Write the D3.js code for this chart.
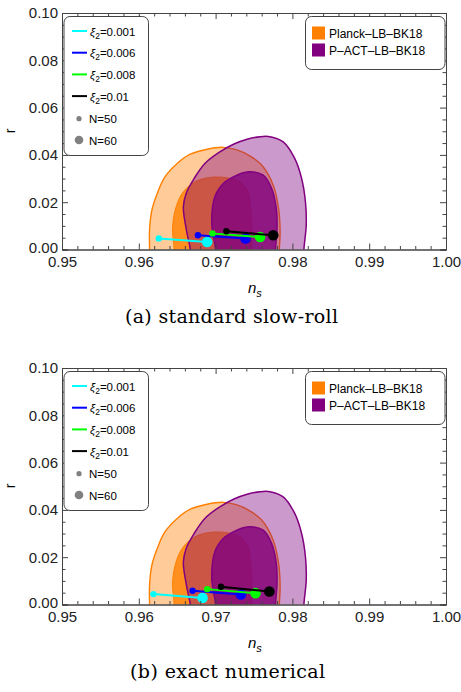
<!DOCTYPE html>
<html>
<head>
<meta charset="utf-8">
<style>
  body { margin: 0; background: #fff; }
  svg { display: block; font-family: "Liberation Sans", Arial, sans-serif; }
  .tick line { stroke: #444; }
  .domain { stroke: #444; }
  .tick text { font-size: 15px; fill: #222; }
</style>
</head>
<body>
<svg width="461" height="692"></svg>
<script src="https://d3js.org/d3.v7.min.js"></script>
<script>

// tick values
const nsMajor = [0.95, 0.96, 0.97, 0.98, 0.99, 1.00];
const rMajor = [0.00, 0.02, 0.04, 0.06, 0.08, 0.10];

// xi_2 values, one line per value
const xiLabels = ["0.001", "0.006", "0.008", "0.01"];
const xiColors = ["#00ffff", "#0000ff", "#00ff00", "#000000"];

// (a) standard slow-roll
const slowRollNs50 = [0.9626, 0.9677, 0.9696, 0.9714];
const slowRollR50 = [0.0047, 0.0060, 0.0068, 0.0077];
const slowRollNs60 = [0.9689, 0.9739, 0.9758, 0.9775];
const slowRollR60 = [0.0032, 0.0047, 0.0053, 0.0060];

// (b) exact numerical
const exactNs50 = [0.9619, 0.9670, 0.9689, 0.9707];
const exactR50 = [0.0044, 0.0058, 0.0065, 0.0075];
const exactNs60 = [0.9683, 0.9733, 0.9752, 0.9770];
const exactR60 = [0.0028, 0.0042, 0.0048, 0.0055];

// confidence contours [ns, r]
const planck2sigma = [
  [0.9614, -0.004], [0.9614, 0.0], [0.9614, 0.0082], [0.9617, 0.0166], [0.9624, 0.0237],
  [0.9634, 0.0307], [0.9650, 0.0364], [0.9667, 0.0403], [0.9689, 0.0424],
  [0.9710, 0.0432], [0.9727, 0.0422], [0.9745, 0.0395], [0.9760, 0.0357],
  [0.9775, 0.0272], [0.9782, 0.0174], [0.9784, 0.0075], [0.9783, 0.0], [0.9783, -0.004]
];
const planck1sigma = [
  [0.9646, -0.004], [0.9646, 0.0], [0.9644, 0.0096], [0.9649, 0.0185], [0.9658, 0.0244],
  [0.9673, 0.0286], [0.9693, 0.0305], [0.9715, 0.0303], [0.9732, 0.0286],
  [0.9742, 0.0244], [0.9746, 0.0166], [0.9747, 0.0082], [0.9747, 0.0], [0.9747, -0.004]
];
const pact2sigma = [
  [0.9667, -0.004], [0.9667, 0.0], [0.9662, 0.0082], [0.9658, 0.0180], [0.9662, 0.0240],
  [0.9672, 0.0300], [0.9686, 0.0364], [0.9705, 0.0412], [0.9724, 0.0446],
  [0.9741, 0.0466], [0.9758, 0.0477], [0.9771, 0.0477], [0.9788, 0.0455],
  [0.9803, 0.0385], [0.9812, 0.0300], [0.9817, 0.0201], [0.9818, 0.0103],
  [0.9815, 0.0], [0.9815, -0.004]
];
const pact1sigma = [
  [0.9700, -0.004], [0.9700, 0.0], [0.9695, 0.0110], [0.9699, 0.0223],
  [0.9710, 0.0279], [0.9723, 0.0307], [0.9741, 0.0328], [0.9762, 0.0314],
  [0.9773, 0.0258], [0.9779, 0.0174], [0.9780, 0.0089],
  [0.9778, 0.0], [0.9778, -0.004]
];

const panels = [
  { top: 13, caption: "(a) standard slow-roll", capX: 231.5, capW: 213, ns50: slowRollNs50, r50: slowRollR50, ns60: slowRollNs60, r60: slowRollR60 },
  { top: 368, caption: "(b) exact numerical", capX: 227.5, capW: 195, ns50: exactNs50, r50: exactR50, ns60: exactNs60, r60: exactR60 }
];

const svg = d3.select("svg");
const left = 62, right = 446, plotH = 236.5;

const x = d3.scaleLinear().domain([0.95, 1.0]).range([left, right]);

panels.forEach(function (p, i) {
  const bottom = p.top + plotH;
  const y = d3.scaleLinear().domain([0, 0.1]).range([bottom, p.top]);
  const g = svg.append("g");

  const clipId = "clip" + i;
  g.append("clipPath").attr("id", clipId)
    .append("rect")
    .attr("x", left).attr("y", p.top)
    .attr("width", right - left).attr("height", plotH);

  // contours
  const area = d3.line()
    .x(d => x(d[0]))
    .y(d => y(d[1]))
    .curve(d3.curveCatmullRomClosed.alpha(0.5));

  const cg = g.append("g").attr("clip-path", "url(#" + clipId + ")");
  cg.append("path").attr("d", area(planck2sigma))
    .attr("fill", "#ff8000").attr("fill-opacity", 0.4)
    .attr("stroke", "#ff8000").attr("stroke-width", 1.4);
  cg.append("path").attr("d", area(planck1sigma))
    .attr("fill", "#ff8000").attr("fill-opacity", 0.8)
    .attr("stroke", "#ff8000").attr("stroke-width", 1);
  cg.append("path").attr("d", area(pact2sigma))
    .attr("fill", "#800080").attr("fill-opacity", 0.4)
    .attr("stroke", "#800080").attr("stroke-width", 1.5);
  cg.append("path").attr("d", area(pact1sigma))
    .attr("fill", "#800080").attr("fill-opacity", 0.8)
    .attr("stroke", "#800080").attr("stroke-width", 1.5);

  // prediction lines, N=50 to N=60
  xiLabels.forEach(function (xi, k) {
    const c = xiColors[k];
    g.append("line")
      .attr("x1", x(p.ns50[k])).attr("y1", y(p.r50[k]))
      .attr("x2", x(p.ns60[k])).attr("y2", y(p.r60[k]))
      .attr("stroke", c).attr("stroke-width", 2);
    g.append("circle")
      .attr("cx", x(p.ns50[k])).attr("cy", y(p.r50[k])).attr("r", 3.2)
      .attr("fill", c);
    g.append("circle")
      .attr("cx", x(p.ns60[k])).attr("cy", y(p.r60[k])).attr("r", 5.3)
      .attr("fill", c);
  });

  // axes with inward ticks
  const nsMinor = d3.range(0.95, 1.0001, 0.002).filter(v => Math.abs(v * 100 - Math.round(v * 100)) > 1e-6);
  const rMinor = d3.range(0, 0.1001, 0.005).filter(v => Math.abs(v * 50 - Math.round(v * 50)) > 1e-6);

  g.append("g").attr("transform", `translate(0,${bottom})`)
    .call(d3.axisBottom(x).tickValues(nsMajor).tickSize(-6).tickPadding(6.5).tickFormat(d3.format(".2f")));
  g.append("g").attr("transform", `translate(0,${bottom})`)
    .call(d3.axisBottom(x).tickValues(nsMinor).tickSize(-3.5).tickFormat(""));
  g.append("g").attr("transform", `translate(0,${p.top})`)
    .call(d3.axisTop(x).tickValues(nsMajor).tickSize(-6).tickFormat(""));
  g.append("g").attr("transform", `translate(0,${p.top})`)
    .call(d3.axisTop(x).tickValues(nsMinor).tickSize(-3.5).tickFormat(""));

  const yAx = g.append("g").attr("transform", `translate(${left},0)`)
    .call(d3.axisLeft(y).tickValues(rMajor).tickSize(-6).tickPadding(4).tickFormat(d3.format(".2f")));
  yAx.selectAll(".tick text").filter(d => d === 0).attr("dy", "0.2em");
  g.append("g").attr("transform", `translate(${left},0)`)
    .call(d3.axisLeft(y).tickValues(rMinor).tickSize(-3.5).tickFormat(""));
  g.append("g").attr("transform", `translate(${right},0)`)
    .call(d3.axisRight(y).tickValues(rMajor).tickSize(-6).tickFormat(""));
  g.append("g").attr("transform", `translate(${right},0)`)
    .call(d3.axisRight(y).tickValues(rMinor).tickSize(-3.5).tickFormat(""));

  g.selectAll(".domain").attr("stroke-width", 1);

  // axis titles
  const ns = g.append("text")
    .attr("x", 248).attr("y", bottom + 43)
    .style("font-size", "15px").style("font-style", "italic");
  ns.append("tspan").text("n");
  ns.append("tspan").attr("dy", 4).style("font-size", "11px").text("s");

  g.append("text")
    .attr("transform", `translate(15,${p.top + 118}) rotate(-90)`)
    .style("font-size", "14px").attr("text-anchor", "middle")
    .text("r");

  // left legend
  const lg = g.append("g").attr("transform", `translate(0,${p.top})`);
  lg.append("rect")
    .attr("x", 64).attr("y", 3.5).attr("width", 84.5).attr("height", 139)
    .attr("rx", 6).attr("fill", "#fff").attr("stroke", "#444").attr("stroke-width", 1);
  xiLabels.forEach(function (xi, k) {
    const yy = 18 + k * 21.7;
    lg.append("line").attr("x1", 72).attr("x2", 87).attr("y1", yy).attr("y2", yy)
      .attr("stroke", xiColors[k]).attr("stroke-width", 2);
    const t = lg.append("text").attr("x", 90).attr("y", yy + 4.5).style("font-size", "11.5px");
    t.append("tspan").style("font-style", "italic").text("ξ");
    t.append("tspan").attr("dy", 3).style("font-size", "8.5px").text("2");
    t.append("tspan").attr("dy", -3).text("=" + xi);
  });
  [["N=50", 2.6, 105.7], ["N=60", 4.3, 127]].forEach(function (d) {
    lg.append("circle").attr("cx", 79).attr("cy", d[2]).attr("r", d[1]).attr("fill", "#808080");
    lg.append("text").attr("x", 89).attr("y", d[2] + 4.5).style("font-size", "11.5px").text(d[0]);
  });

  // right legend
  lg.append("rect")
    .attr("x", 305.5).attr("y", 3.5).attr("width", 139.5).attr("height", 53)
    .attr("rx", 6).attr("fill", "#fff").attr("stroke", "#444").attr("stroke-width", 1);
  [["Planck–LB–BK18", "#ff8000", 20], ["P–ACT–LB–BK18", "#800080", 37]].forEach(function (d) {
    lg.append("rect").attr("x", 312).attr("y", d[2] - 6.5).attr("width", 13).attr("height", 13)
      .attr("fill", d[1]);
    lg.append("text").attr("x", 329).attr("y", d[2] + 4.5).style("font-size", "12px").text(d[0]);
  });

  // caption
  svg.append("text")
    .attr("x", p.capX).attr("y", bottom + 73)
    .attr("text-anchor", "middle")
    .attr("textLength", p.capW)
    .attr("lengthAdjust", "spacing")
    .style("font-family", "'DejaVu Serif', serif")
    .style("font-size", "19px")
    .text(p.caption);
});

</script>
</body>
</html>
